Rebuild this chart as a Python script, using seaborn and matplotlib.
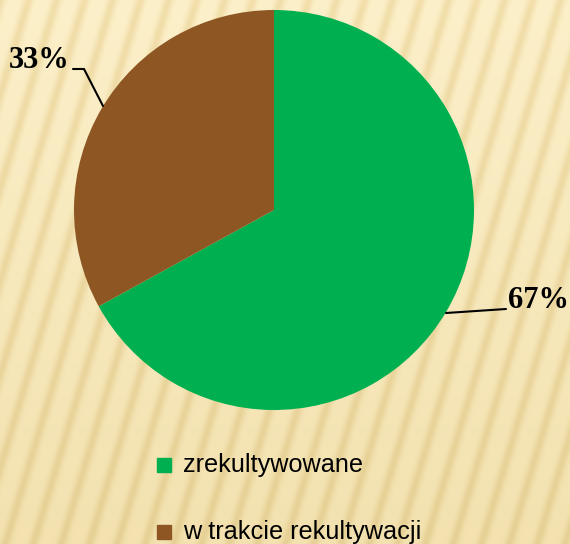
import matplotlib
matplotlib.use("Agg")
import matplotlib.pyplot as plt
import seaborn as sns
import numpy as np

categories = ["zrekultywowane", "w trakcie rekultywacji"]
values = [67, 33]
pct_labels = ["67%", "33%"]
colors = ["#00B050", "#8E5622"]

sns.set_style("white")
plt.rcParams["font.family"] = ["Liberation Sans", "DejaVu Sans"]

W, H = 570, 544
fig = plt.figure(figsize=(W / 100, H / 100), dpi=100)
fig.patch.set_facecolor("#F4E3AF")
ax = fig.add_axes([0, 0, 1, 1])
ax.set_xlim(0, W)
ax.set_ylim(0, H)
ax.set_aspect("equal")
ax.axis("off")

# subtle diagonal stripe background with vertical gradient
yy, xx = np.mgrid[0:H, 0:W]
phase = (xx + 0.3 * yy) * 2 * np.pi / 28
stripe = (0.5 + 0.5 * np.cos(phase)) ** 3
t = yy / H
light = (np.array([0xFC, 0xF0, 0xCA]) * (1 - t[..., None]) +
         np.array([0xF3, 0xE2, 0xB0]) * t[..., None]) / 255
dark = (np.array([0xF1, 0xDE, 0xAA]) * (1 - t[..., None]) +
        np.array([0xE6, 0xD0, 0x95]) * t[..., None]) / 255
bg = light * (1 - stripe[..., None]) + dark * stripe[..., None]
ax.imshow(bg, extent=(0, W, 0, H), origin="upper", zorder=0)

cx, cy, r = 274, H - 210, 200
wedges, _ = ax.pie(values, colors=colors, startangle=90, counterclock=False,
                   center=(cx, cy), radius=r, frame=True,
                   wedgeprops=dict(linewidth=0))
for w in wedges:
    w.set_zorder(2)
ax.set_xlim(0, W)
ax.set_ylim(0, H)
ax.axis("off")

serif = ["Liberation Serif", "DejaVu Serif"]
# leader lines and percentage labels
ax.plot([446, 506], [H - 313, H - 309], color="black", lw=1.5, zorder=3)
ax.text(508, H - 301, pct_labels[0], fontsize=22, fontweight="bold",
        family=serif, va="center", ha="left", color="black", zorder=3)
ax.plot([73, 84, 103], [H - 69, H - 69, H - 106], color="black", lw=1.5, zorder=3)
ax.text(70, H - 61, pct_labels[1], fontsize=22, fontweight="bold",
        family=serif, va="center", ha="right", color="black", zorder=3)

# legend
for i, (cat, col) in enumerate(zip(categories, colors)):
    y = H - 465 - i * 67
    ax.add_patch(plt.Rectangle((157, y - 7), 14, 14, color=col, zorder=3))
    ax.text(183, y, cat, fontsize=18.2, va="center", ha="left", color="black", zorder=3)

fig.savefig("out.png", dpi=100, facecolor=fig.get_facecolor())
